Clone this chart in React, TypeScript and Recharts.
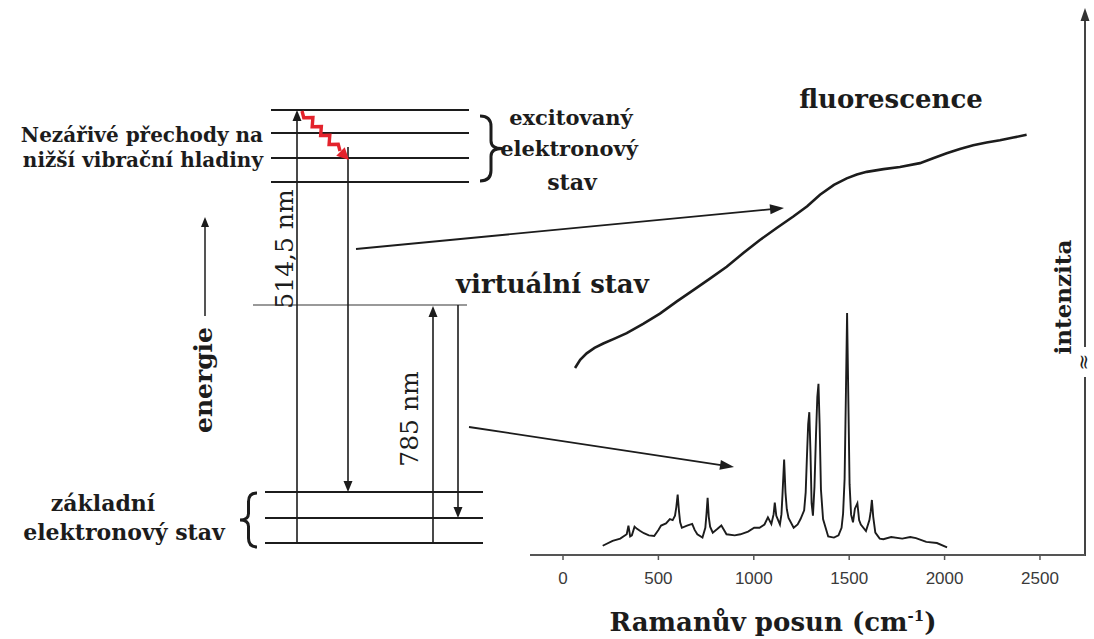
import React from 'react';
import { ComposedChart, Line, XAxis, YAxis, Customized } from 'recharts';

// Raman spectrum (shift in cm-1, intensity in arbitrary units)
const ramanShift = [208, 260, 300, 334, 343, 352, 361, 375, 388, 405, 424, 450, 478, 500, 514, 540, 560, 575, 587, 594, 601, 608, 614, 623, 650, 677, 690, 704, 731, 746, 752, 758, 764, 771, 785, 810, 830, 857, 900, 930, 970, 1002, 1030, 1056, 1074, 1092, 1104, 1110, 1118, 1137, 1145, 1150, 1159, 1166, 1173, 1182, 1209, 1230, 1245, 1264, 1272, 1278, 1285, 1291, 1297, 1303, 1310, 1318, 1326, 1333, 1339, 1345, 1352, 1363, 1390, 1420, 1444, 1460, 1468, 1476, 1483, 1489, 1495, 1502, 1510, 1520, 1530, 1543, 1552, 1561, 1588, 1606, 1613, 1619, 1626, 1637, 1660, 1679, 1720, 1778, 1820, 1850, 1904, 1960, 2013];
const ramanIntensity = [1.7, 2.6, 3.0, 3.8, 5.4, 3.4, 3.6, 5.2, 4.8, 4.4, 4.0, 3.6, 3.5, 4.6, 5.4, 5.8, 6.6, 6.4, 7.2, 8.8, 11.1, 8.0, 6.0, 5.0, 5.4, 5.7, 4.6, 3.8, 3.2, 5.0, 7.5, 10.5, 7.0, 5.2, 4.1, 4.8, 5.4, 3.8, 3.6, 3.8, 4.3, 5.0, 5.0, 5.6, 6.9, 5.7, 7.5, 9.6, 7.2, 5.6, 7.5, 10.8, 17.5, 11.5, 8.4, 6.8, 5.0, 5.6, 6.6, 8.2, 11.5, 17.5, 24.0, 26.2, 19.0, 9.5, 7.2, 12.5, 22.0, 29.0, 31.4, 24.0, 12.0, 6.6, 3.4, 3.2, 3.6, 5.0, 7.6, 14.0, 30.0, 44.4, 30.0, 13.0, 7.4, 6.0, 8.5, 9.5, 6.4, 5.6, 4.4, 6.4, 8.0, 10.1, 7.0, 4.1, 3.0, 2.9, 3.3, 3.0, 3.3, 3.1, 2.4, 2.2, 1.4];

// fluorescence background
const fluorShift = [63, 90, 124, 165, 211, 270, 334, 420, 508, 595, 683, 770, 858, 945, 1032, 1120, 1207, 1280, 1347, 1420, 1487, 1540, 1592, 1680, 1766, 1871, 1940, 2011, 2080, 2150, 2220, 2290, 2360, 2430];
const fluorIntensity = [34.3, 35.8, 37.0, 38.0, 38.8, 39.7, 40.7, 42.4, 44.3, 46.5, 48.6, 50.7, 52.9, 55.4, 57.8, 60.0, 62.1, 64.0, 66.1, 67.9, 69.1, 69.8, 70.3, 70.8, 71.2, 71.9, 72.8, 73.7, 74.5, 75.2, 75.7, 76.1, 76.6, 77.1];

const xTicks = [0, 500, 1000, 1500, 2000, 2500];

const ramanData = ramanShift.map((x, i) => ({ x, y: ramanIntensity[i] }));
const fluorData = fluorShift.map((x, i) => ({ x, y: fluorIntensity[i] }));

const ink = '#1c1c1c';
const serif = '"DejaVu Serif", "Liberation Serif", serif';

const headPts = (tx: number, ty: number, fx: number, fy: number, len = 11, hw = 4.5) => {
  const d = Math.hypot(tx - fx, ty - fy);
  const ux = (tx - fx) / d;
  const uy = (ty - fy) / d;
  const bx = tx - ux * len;
  const by = ty - uy * len;
  return `${tx},${ty} ${bx - uy * hw},${by + ux * hw} ${bx + uy * hw},${by - ux * hw}`;
};

const Arrow = ({ x1, y1, x2, y2, w = 1.6, color = ink, len = 11, hw = 4.5 }: any) => {
  const d = Math.hypot(x2 - x1, y2 - y1);
  const ex = x2 - ((x2 - x1) / d) * len * 0.7;
  const ey = y2 - ((y2 - y1) / d) * len * 0.7;
  return (
    <g>
      <line x1={x1} y1={y1} x2={ex} y2={ey} stroke={color} strokeWidth={w} />
      <polygon points={headPts(x2, y2, x1, y1, len, hw)} fill={color} />
    </g>
  );
};

// curly brace, dir 1 = "}" , -1 = "{"
const brace = (x: number, y1: number, y2: number, w: number, dir: number) => {
  const h = y2 - y1;
  const ym = (y1 + y2) / 2;
  const xm = x + (w / 2) * dir;
  const xt = x + w * dir;
  return `M${x},${y1} Q${xm},${y1} ${xm},${y1 + h * 0.16} L${xm},${ym - h * 0.12} Q${xm},${ym} ${xt},${ym} Q${xm},${ym} ${xm},${ym + h * 0.12} L${xm},${y2 - h * 0.16} Q${xm},${y2} ${x},${y2}`;
};

const zigzag = (x1: number, y1: number, x2: number, y2: number, n: number, amp: number) => {
  const d = Math.hypot(x2 - x1, y2 - y1);
  const ux = (x2 - x1) / d;
  const uy = (y2 - y1) / d;
  const pts: string[] = [];
  for (let i = 0; i <= n; i++) {
    const t = i / n;
    const s = i === 0 || i === n ? 0 : i % 2 ? amp : -amp;
    pts.push(`${x1 + (x2 - x1) * t - uy * s},${y1 + (y2 - y1) * t + ux * s}`);
  }
  return pts.join(' ');
};

const T = ({ x, y, size, bold = true, anchor = 'middle', rotate, children }: any) => (
  <text
    x={rotate ? 0 : x}
    y={rotate ? 0 : y}
    transform={rotate ? `translate(${x},${y}) rotate(-90)` : undefined}
    textAnchor={anchor}
    fill={ink}
    style={{ fontFamily: serif, fontSize: size, fontWeight: bold ? 700 : 400 }}
  >
    {children}
  </text>
);

const Diagram = () => (
  <g>
    {/* excited electronic state levels */}
    {[110, 133, 158, 182].map((y) => (
      <line key={y} x1={271} x2={469} y1={y} y2={y} stroke={ink} strokeWidth={2} />
    ))}
    {/* ground state levels */}
    {[492, 518, 543].map((y) => (
      <line key={y} x1={265} x2={483} y1={y} y2={y} stroke={ink} strokeWidth={2} />
    ))}
    {/* virtual state */}
    <line x1={253} x2={467} y1={305} y2={305} stroke="#777" strokeWidth={1.4} />

    <Arrow x1={297} y1={543} x2={297} y2={110} />
    <Arrow x1={348} y1={147} x2={348} y2={492} />
    <Arrow x1={433} y1={543} x2={433} y2={306} />
    <Arrow x1={458} y1={305} x2={458} y2={518} />
    <Arrow x1={205} y1={316} x2={205} y2={217} w={1.5} len={10} hw={4} />

    {/* non-radiative relaxation */}
    <polyline points={zigzag(302, 111, 340, 151, 9, 3.4)} fill="none" stroke="#e3232c" strokeWidth={3.4} />
    <polygon points={headPts(349, 160, 336, 147, 12, 6)} fill="#e3232c" />

    <path d={brace(480, 116, 181, 22, 1)} fill="none" stroke={ink} strokeWidth={3} />
    <path d={brace(257, 493, 547, 17, -1)} fill="none" stroke={ink} strokeWidth={3} />

    {/* pointer arrows to the spectrum */}
    <Arrow x1={356} y1={249} x2={784} y2={208} w={1.8} len={14} hw={5} />
    <Arrow x1={469} y1={427} x2={734} y2={467} w={1.8} len={14} hw={5} />

    <T x={263} y={142} size={20} anchor="end">Nezářivé přechody na</T>
    <T x={263} y={167} size={20} anchor="end">nižší vibrační hladiny</T>
    <T x={571} y={125} size={21}>excitovaný</T>
    <T x={569} y={156} size={21}>elektronový</T>
    <T x={572} y={190} size={22}>stav</T>
    <T x={456} y={293} size={26} anchor="start">virtuální stav</T>
    <T x={891} y={108} size={26}>fluorescence</T>
    <T x={103} y={511} size={22}>základní</T>
    <T x={124} y={540} size={22}>elektronový stav</T>

    <T x={212} y={380} size={25} rotate>energie</T>
    <T x={293} y={249} size={25} bold={false} rotate>514,5 nm</T>
    <T x={418} y={419} size={25} bold={false} rotate>785 nm</T>

    {/* intensity axis with break */}
    <line x1={1085} x2={1085} y1={556} y2={377} stroke="#444" strokeWidth={2} />
    <line x1={1085} x2={1085} y1={347} y2={20} stroke="#444" strokeWidth={2} />
    <polygon points={headPts(1085, 8, 1085, 40, 13, 4.5)} fill="#333" />
    <T x={1090} y={362} size={20} bold={false} rotate>≈</T>
    <T x={1071} y={297} size={23} rotate>intenzita</T>

    <text x={773} y={631} textAnchor="middle" fill={ink} style={{ fontFamily: serif, fontSize: 26, fontWeight: 700 }}>
      Ramanův posun (cm<tspan dy={-10} fontSize={15}>-1</tspan><tspan dy={10}>)</tspan>
    </text>
  </g>
);

export default function App() {
  return (
    <div style={{ position: 'absolute', left: 0, top: 0, background: '#fff' }}>
      <ComposedChart width={1094} height={639} margin={{ top: 10, right: 9, bottom: 54, left: 530 }}>
        <XAxis
          type="number"
          dataKey="x"
          domain={[-173, 2736]}
          ticks={xTicks}
          allowDataOverflow
          height={30}
          axisLine={{ stroke: '#555', strokeWidth: 2 }}
          tickLine={{ stroke: '#555', strokeWidth: 1.5 }}
          tickSize={5}
          tickMargin={12}
          tick={{ fill: '#3a3a3a', fontSize: 17, fontFamily: '"Liberation Sans", Arial, sans-serif' }}
        />
        <YAxis type="number" domain={[0, 100]} hide />
        <Line data={fluorData} dataKey="y" type="linear" stroke={ink} strokeWidth={2.6} dot={false} isAnimationActive={false} />
        <Line data={ramanData} dataKey="y" type="linear" stroke={ink} strokeWidth={1.9} dot={false} isAnimationActive={false} />
        <Customized component={Diagram} />
      </ComposedChart>
    </div>
  );
}
